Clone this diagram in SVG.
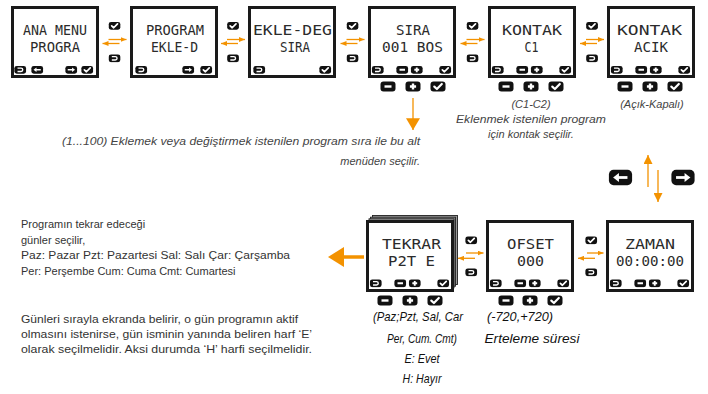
<svg xmlns="http://www.w3.org/2000/svg" width="708" height="394" viewBox="0 0 708 394">
<style>
.scr{fill:#fff;stroke:#1a1a1a;stroke-width:3}
.lay{fill:#9a9a9a;stroke:#222;stroke-width:0.9}
.lcd{font-family:"DejaVu Sans Mono","Liberation Mono",monospace;font-size:14px;fill:#2b2b2b;text-anchor:middle}
.ar{stroke:#F39200;stroke-width:1.3;fill:none}
.note{font-family:"Liberation Sans",Arial,sans-serif;font-style:italic;font-size:11px;fill:#444}
.cap{font-family:"Liberation Sans",Arial,sans-serif;font-style:italic;font-size:13.5px;fill:#111;text-anchor:middle}
.body{font-family:"Liberation Sans",Arial,sans-serif;font-size:11px;fill:#333}
</style>
<defs>
<symbol id="b-chk" viewBox="0 0 16 11"><rect x="0.5" y="0.5" width="15" height="10" rx="3" fill="#111"/><path d="M4.3,5.6 L6.9,8 L11.8,3" fill="none" stroke="#fff" stroke-width="2.2" stroke-linecap="round" stroke-linejoin="round"/></symbol>
<symbol id="b-back" viewBox="0 0 16 11"><rect x="0.5" y="0.5" width="15" height="10" rx="3" fill="#111"/><path d="M4.5,3.3 H9 A2.2,2.2 0 0 1 9,7.7 H4.5" fill="none" stroke="#fff" stroke-width="1.8"/></symbol>
<symbol id="b-plus" viewBox="0 0 16 11"><rect x="0.5" y="0.5" width="15" height="10" rx="3" fill="#111"/><path d="M8,2.4 V8.6 M4.9,5.5 H11.1" fill="none" stroke="#fff" stroke-width="2.4"/></symbol>
<symbol id="b-minus" viewBox="0 0 16 11"><rect x="0.5" y="0.5" width="15" height="10" rx="3" fill="#111"/><path d="M4.5,5.5 H11.5" fill="none" stroke="#fff" stroke-width="2.4"/></symbol>
<symbol id="b-left" viewBox="0 0 16 11"><rect x="0.5" y="0.5" width="15" height="10" rx="3" fill="#111"/><path d="M12.5,5.5 H6" stroke="#fff" stroke-width="1.8"/><polygon points="3.2,5.5 7,2.6 7,8.4" fill="#fff"/></symbol>
<symbol id="b-right" viewBox="0 0 16 11"><rect x="0.5" y="0.5" width="15" height="10" rx="3" fill="#111"/><path d="M3.5,5.5 H10" stroke="#fff" stroke-width="1.8"/><polygon points="12.8,5.5 9,2.6 9,8.4" fill="#fff"/></symbol>
<marker id="ah" viewBox="0 0 12 10" refX="12" refY="5" markerWidth="6" markerHeight="5" markerUnits="userSpaceOnUse" orient="auto"><path d="M0,0 L12,5 L0,10 z" fill="#F39200"/></marker>
<marker id="ahL" viewBox="0 0 10 10" refX="10" refY="5" markerWidth="9" markerHeight="9" markerUnits="userSpaceOnUse" orient="auto"><path d="M0,0 L10,5 L0,10 z" fill="#F39200"/></marker>
<marker id="ahXL" viewBox="0 0 10 12" refX="10" refY="6" markerWidth="12" markerHeight="14" markerUnits="userSpaceOnUse" orient="auto"><path d="M0,0 L10,6 L0,12 z" fill="#F39200"/></marker>
</defs>
<rect width="708" height="394" fill="#fff"/>

<g id="n-ana-menu">
<rect class="scr" x="12.5" y="7.5" width="85" height="69"/>
<text class="lcd" x="55" y="35" textLength="64" lengthAdjust="spacingAndGlyphs">ANA MENU</text>
<text class="lcd" x="55" y="51.5" textLength="50" lengthAdjust="spacingAndGlyphs">PROGRA</text>
<use href="#b-back" x="14" y="65.5" width="12.5" height="8.6"/>
<use href="#b-left" x="31" y="65.5" width="12.5" height="8.6"/>
<use href="#b-right" x="65" y="65.5" width="12.5" height="8.6"/>
<use href="#b-chk" x="81" y="65.5" width="12.5" height="8.6"/>
</g>

<g id="n-program-ekle">
<rect class="scr" x="131.5" y="7.5" width="85" height="69"/>
<text class="lcd" x="175" y="35" textLength="58" lengthAdjust="spacingAndGlyphs">PROGRAM</text>
<text class="lcd" x="174.5" y="51.5" textLength="47" lengthAdjust="spacingAndGlyphs">EKLE-D</text>
<use href="#b-back" x="135" y="65.5" width="12.5" height="8.6"/>
<use href="#b-right" x="182" y="65.5" width="12.5" height="8.6"/>
<use href="#b-chk" x="200" y="65.5" width="12.5" height="8.6"/>
</g>

<g id="n-ekle-deg">
<rect class="scr" x="249.5" y="7.5" width="85" height="69"/>
<text class="lcd" x="292.5" y="35" textLength="79" lengthAdjust="spacingAndGlyphs">EKLE-DEG</text>
<text class="lcd" x="295" y="51.5" textLength="30" lengthAdjust="spacingAndGlyphs">SIRA</text>
<use href="#b-back" x="253" y="65.5" width="12.5" height="8.6"/>
<use href="#b-chk" x="319" y="65.5" width="12.5" height="8.6"/>
</g>

<g id="n-sira">
<rect class="scr" x="369.5" y="7.5" width="85" height="69"/>
<text class="lcd" x="413" y="35" textLength="34" lengthAdjust="spacingAndGlyphs">SIRA</text>
<text class="lcd" x="412.5" y="51.5" textLength="61" lengthAdjust="spacingAndGlyphs">001 BOS</text>
<use href="#b-back" x="371.5" y="65.5" width="12.5" height="8.6"/>
<use href="#b-minus" x="396" y="65.5" width="12.5" height="8.6"/>
<use href="#b-plus" x="410.5" y="65.5" width="12.5" height="8.6"/>
<use href="#b-chk" x="439" y="65.5" width="12.5" height="8.6"/>
<use href="#b-minus" x="380" y="81" width="16" height="11"/>
<use href="#b-plus" x="405" y="81" width="16" height="11"/>
<use href="#b-chk" x="430" y="81" width="16" height="11"/>
</g>

<g id="n-kontak-c">
<rect class="scr" x="489.5" y="7.5" width="85" height="69"/>
<text class="lcd" x="532" y="35" textLength="60" lengthAdjust="spacingAndGlyphs">KONTAK</text>
<text class="lcd" x="531.5" y="51.5" textLength="14" lengthAdjust="spacingAndGlyphs">C1</text>
<use href="#b-back" x="491.5" y="65.5" width="12.5" height="8.6"/>
<use href="#b-minus" x="516" y="65.5" width="12.5" height="8.6"/>
<use href="#b-plus" x="530.5" y="65.5" width="12.5" height="8.6"/>
<use href="#b-chk" x="559" y="65.5" width="12.5" height="8.6"/>
<use href="#b-minus" x="498" y="81" width="16" height="11"/>
<use href="#b-plus" x="523" y="81" width="16" height="11"/>
<use href="#b-chk" x="548" y="81" width="16" height="11"/>
<text class="note" x="531" y="108" text-anchor="middle">(C1-C2)</text>
<text class="note" x="531" y="123" text-anchor="middle" textLength="150" lengthAdjust="spacingAndGlyphs">Eklenmek istenilen program</text>
<text class="note" x="531" y="138" text-anchor="middle">için kontak seçilir.</text>
</g>

<g id="n-kontak-acik">
<rect class="scr" x="608.5" y="7.5" width="85" height="69"/>
<text class="lcd" x="649.5" y="35" textLength="65" lengthAdjust="spacingAndGlyphs">KONTAK</text>
<text class="lcd" x="651" y="51.5" textLength="34" lengthAdjust="spacingAndGlyphs">ACIK</text>
<use href="#b-back" x="610.5" y="65.5" width="12.5" height="8.6"/>
<use href="#b-minus" x="635" y="65.5" width="12.5" height="8.6"/>
<use href="#b-plus" x="649.5" y="65.5" width="12.5" height="8.6"/>
<use href="#b-chk" x="678" y="65.5" width="12.5" height="8.6"/>
<use href="#b-minus" x="617" y="81" width="16" height="11"/>
<use href="#b-plus" x="642" y="81" width="16" height="11"/>
<use href="#b-chk" x="667" y="81" width="16" height="11"/>
<text class="note" x="652" y="108" text-anchor="middle">(Açık-Kapalı)</text>
</g>

<g id="n-nav">
<use href="#b-left" x="608" y="169" width="25" height="17"/>
<use href="#b-right" x="670" y="169" width="26" height="17"/>
</g>

<g id="n-tekrar">
<rect class="lay" x="372.5" y="215.5" width="85" height="69"/>
<rect class="lay" x="370.5" y="217.2" width="85" height="69"/>
<rect class="lay" x="369" y="218.8" width="85" height="69"/>
<rect class="scr" x="367.5" y="221.5" width="85" height="69"/>
<text class="lcd" x="411.5" y="249" textLength="59" lengthAdjust="spacingAndGlyphs">TEKRAR</text>
<text class="lcd" x="411.5" y="265.5" textLength="47" lengthAdjust="spacingAndGlyphs">P2T E</text>
<use href="#b-back" x="369.5" y="279" width="12.5" height="8.6"/>
<use href="#b-minus" x="394" y="279" width="12.5" height="8.6"/>
<use href="#b-plus" x="408.5" y="279" width="12.5" height="8.6"/>
<use href="#b-chk" x="437" y="279" width="12.5" height="8.6"/>
<use href="#b-minus" x="377" y="295" width="16" height="11"/>
<use href="#b-plus" x="402" y="295" width="16" height="11"/>
<use href="#b-chk" x="427" y="295" width="16" height="11"/>
<text class="cap" x="418" y="321" textLength="90" lengthAdjust="spacingAndGlyphs">(Paz;Pzt, Sal, Car</text>
<text class="cap" x="422" y="343" textLength="70" lengthAdjust="spacingAndGlyphs">Per, Cum. Cmt)</text>
<text class="cap" x="422" y="363" textLength="35" lengthAdjust="spacingAndGlyphs">E: Evet</text>
<text class="cap" x="422" y="383" textLength="39" lengthAdjust="spacingAndGlyphs">H: Hayır</text>
</g>

<g id="n-ofset">
<rect class="scr" x="487.5" y="221.5" width="85" height="69"/>
<text class="lcd" x="530.5" y="249" textLength="47" lengthAdjust="spacingAndGlyphs">OFSET</text>
<text class="lcd" x="530.5" y="265.5" textLength="27" lengthAdjust="spacingAndGlyphs">000</text>
<use href="#b-back" x="489.5" y="279" width="12.5" height="8.6"/>
<use href="#b-minus" x="514" y="279" width="12.5" height="8.6"/>
<use href="#b-plus" x="528.5" y="279" width="12.5" height="8.6"/>
<use href="#b-chk" x="557" y="279" width="12.5" height="8.6"/>
<use href="#b-minus" x="498" y="295" width="16" height="11"/>
<use href="#b-plus" x="522" y="295" width="16" height="11"/>
<use href="#b-chk" x="547" y="295" width="16" height="11"/>
<text class="cap" x="520" y="321" textLength="66" lengthAdjust="spacingAndGlyphs">(-720,+720)</text>
<text class="cap" x="532" y="343" textLength="95" lengthAdjust="spacingAndGlyphs">Erteleme süresi</text>
</g>

<g id="n-zaman">
<rect class="scr" x="607.5" y="221.5" width="85" height="69"/>
<text class="lcd" x="650" y="249" textLength="50" lengthAdjust="spacingAndGlyphs">ZAMAN</text>
<text class="lcd" x="650" y="265.5" textLength="68" lengthAdjust="spacingAndGlyphs">00:00:00</text>
<use href="#b-back" x="609.5" y="279" width="12.5" height="8.6"/>
<use href="#b-minus" x="634" y="279" width="12.5" height="8.6"/>
<use href="#b-plus" x="648.5" y="279" width="12.5" height="8.6"/>
<use href="#b-chk" x="677" y="279" width="12.5" height="8.6"/>
</g>

<g id="n-notes">
<text class="note" x="420" y="145" text-anchor="end" textLength="358" lengthAdjust="spacingAndGlyphs">(1...100) Eklemek veya değiştirmek istenilen program sıra ile bu alt</text>
<text class="note" x="420" y="165" text-anchor="end">menüden seçilir.</text>
<text class="body" x="21" y="228">Programın tekrar edeceği</text>
<text class="body" x="21" y="243.5">günler seçilir,</text>
<text class="body" x="21" y="259" textLength="269" lengthAdjust="spacingAndGlyphs">Paz: Pazar Pzt: Pazartesi Sal: Salı Çar: Çarşamba</text>
<text class="body" x="21" y="274.5">Per: Perşembe Cum: Cuma Cmt: Cumartesi</text>
<text class="body" x="21" y="323" textLength="277" lengthAdjust="spacingAndGlyphs">Günleri sırayla ekranda belirir, o gün programın aktif</text>
<text class="body" x="21" y="338" textLength="291" lengthAdjust="spacingAndGlyphs">olmasını istenirse, gün isminin yanında beliren harf ‘E’</text>
<text class="body" x="21" y="353" textLength="291" lengthAdjust="spacingAndGlyphs">olarak seçilmelidir. Aksi durumda ‘H’ harfi seçilmelidir.</text>
</g>

<g id="connectors">
<g id="gap-buttons">
<use href="#b-chk" x="108.3" y="21.5" width="12.5" height="8.6"/><use href="#b-back" x="108.3" y="54" width="12.5" height="8.6"/>
<use href="#b-chk" x="226.8" y="21.5" width="12.5" height="8.6"/><use href="#b-back" x="226.8" y="54" width="12.5" height="8.6"/>
<use href="#b-chk" x="346.3" y="21.5" width="12.5" height="8.6"/><use href="#b-back" x="346.3" y="54" width="12.5" height="8.6"/>
<use href="#b-chk" x="466.3" y="21.5" width="12.5" height="8.6"/><use href="#b-back" x="466.3" y="54" width="12.5" height="8.6"/>
<use href="#b-chk" x="585.8" y="21.5" width="12.5" height="8.6"/><use href="#b-back" x="585.8" y="54" width="12.5" height="8.6"/>
<use href="#b-chk" x="465" y="236" width="12.5" height="8.6"/><use href="#b-back" x="465" y="268" width="12.5" height="8.6"/>
<use href="#b-chk" x="585" y="236" width="12.5" height="8.6"/><use href="#b-back" x="585" y="268" width="12.5" height="8.6"/>
</g>
<g id="gap-arrows">
<line class="ar" x1="108.5" y1="39.5" x2="126.5" y2="39.5" marker-end="url(#ah)"/>
<line class="ar" x1="119.5" y1="43.5" x2="102.5" y2="43.5" marker-end="url(#ah)"/>
<line class="ar" x1="227" y1="39.5" x2="245" y2="39.5" marker-end="url(#ah)"/>
<line class="ar" x1="238" y1="43.5" x2="221" y2="43.5" marker-end="url(#ah)"/>
<line class="ar" x1="346.5" y1="39.5" x2="364.5" y2="39.5" marker-end="url(#ah)"/>
<line class="ar" x1="357.5" y1="43.5" x2="340.5" y2="43.5" marker-end="url(#ah)"/>
<line class="ar" x1="466.5" y1="39.5" x2="484.5" y2="39.5" marker-end="url(#ah)"/>
<line class="ar" x1="477.5" y1="43.5" x2="460.5" y2="43.5" marker-end="url(#ah)"/>
<line class="ar" x1="586" y1="39.5" x2="604" y2="39.5" marker-end="url(#ah)"/>
<line class="ar" x1="597" y1="43.5" x2="580" y2="43.5" marker-end="url(#ah)"/>
<line class="ar" x1="466" y1="253" x2="483.5" y2="253" marker-end="url(#ah)"/>
<line class="ar" x1="475" y1="258.3" x2="458" y2="258.3" marker-end="url(#ah)"/>
<line class="ar" x1="587" y1="253" x2="603.5" y2="253" marker-end="url(#ah)"/>
<line class="ar" x1="595" y1="258.3" x2="578" y2="258.3" marker-end="url(#ah)"/>
</g>
<line class="ar" x1="413" y1="98" x2="413" y2="130" stroke-width="1.5" marker-end="url(#ahXL)"/>
<line class="ar" x1="648" y1="187" x2="648" y2="155" stroke-width="1.5" marker-end="url(#ahL)"/>
<line class="ar" x1="658" y1="170" x2="658" y2="202" stroke-width="1.5" marker-end="url(#ahL)"/>
<line x1="364" y1="257" x2="342" y2="257" stroke="#F39200" stroke-width="3.5"/>
<polygon points="328,257 344,247 344,267" fill="#F39200"/>
</g>
</svg>
